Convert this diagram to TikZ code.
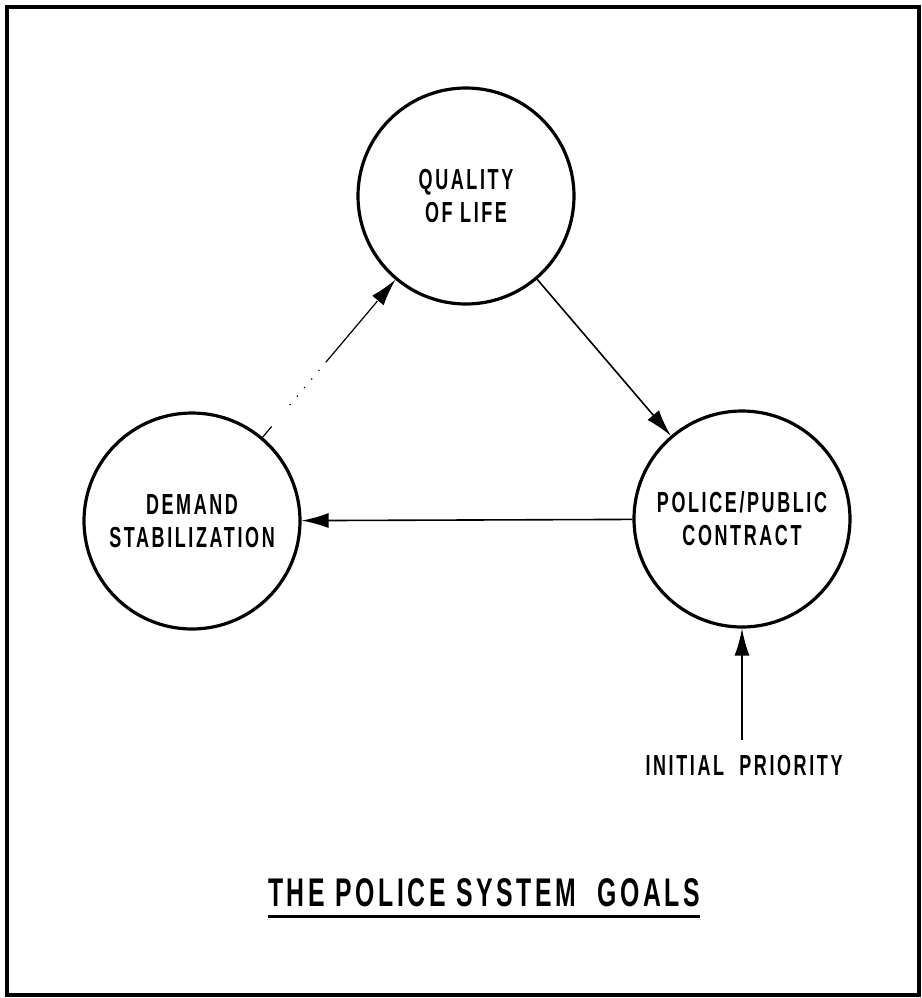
\documentclass[tikz,border=0pt]{standalone}
\usepackage{fontspec}
\usepackage{tikz}
\usetikzlibrary{%
	arrows.meta,%
	calc%
}
\newfontfamily\letterfont[FakeStretch=0.62,LetterSpace=9]{Liberation Sans}

\begin{document}
\begin{tikzpicture}
		[x=0.5pt,y=-0.5pt,
		goal/.style={draw,circle,line width=1.6pt,minimum size=108pt,inner sep=0pt,align=center,
			font=\letterfont\bfseries\fontsize{14.5pt}{16.5pt}\selectfont},
		link/.style={line width=0.8pt,-{Latex[length=13.5pt,width=7.5pt]}},
		faintlink/.style={link,line width=0.6pt,
			dash pattern=on 7pt off 14pt on 0.6pt off 5pt on 0.6pt off 5pt on 0.6pt off 5pt on 0.6pt off 5pt on 0.6pt off 5pt on 40pt off 1pt},
		label/.style={inner sep=0pt,font=\letterfont\bfseries\fontsize{14.5pt}{16.5pt}\selectfont}
		]
		
		% frame
		\useasboundingbox (0,0) rectangle (922,998);
		\draw[line width=2pt] (7,7) rectangle (919,995);
		
		% goals
		\node[goal] (qol) at (466,196) {QUALITY\\OF LIFE};
		\node[goal] (dem) at (192,521) {DEMAND\\STABILIZATION};
		\node[goal] (pol) at (742,519) {POLICE/PUBLIC\\CONTRACT};
		
		\draw[link] (qol) -- (pol);
		\draw[link] (pol) -- (dem);
		\draw[faintlink] (dem) -- (qol);
		
		% initial priority
		\node[label,anchor=base] (init) at (744,775) {INITIAL\ \ PRIORITY};
		\coordinate (src) at (742,740);
		\draw[link] (src) -- (pol);
		
		% title
		\node[label,anchor=base,font=\letterfont\bfseries\fontsize{20pt}{24pt}\selectfont] (ttl) at (484,906) {THE POLICE SYSTEM\ \ GOALS};
		\draw[line width=1.5pt] ($(ttl.base west)+(0,10)$) -- ($(ttl.base east)+(0,10)$);
	\end{tikzpicture}
\end{document}
